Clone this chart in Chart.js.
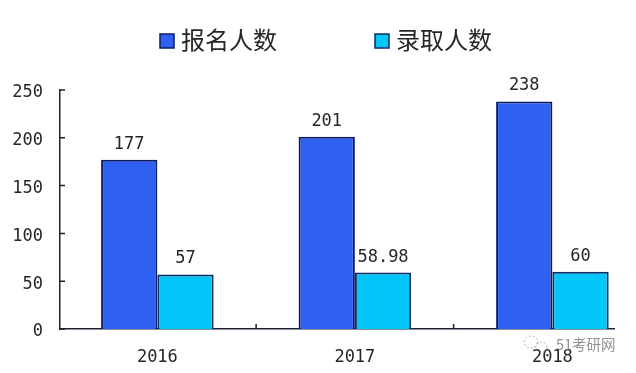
<!DOCTYPE html>
<html>
<head>
<meta charset="utf-8">
<title>报名人数与录取人数</title>
<script src="https://cdn.jsdelivr.net/npm/chart.js@4/dist/chart.umd.min.js"></script>
<style>
  html, body { margin: 0; padding: 0; background: #fff; }
  canvas { display: block; }
</style>
</head>
<body>
<canvas id="chart" width="636" height="373"></canvas>
<script>
const years = [2016, 2017, 2018];
const baoming = [177, 201, 238];
const luqu = [57, 58.98, 60];
const yTicks = [0, 50, 100, 150, 200, 250];
const groupEdges = [2016.5, 2017.5];
const seriesNames = ["报名人数", "录取人数"];

const monoFont = '17px "DejaVu Sans Mono", monospace';
const axisColor = "#1c2230";
const textColor = "#262626";

function toPoints(values) {
  return values.map((v, i) => ({ x: years[i], y: v }));
}

// value labels, inward tick marks, legend and the watermark
const extras = {
  id: "extras",
  afterDraw(chart) {
    const ctx = chart.ctx;
    const xs = chart.scales.x;
    const ys = chart.scales.y;
    ctx.save();

    // ticks point inward on this chart
    ctx.strokeStyle = axisColor;
    ctx.lineWidth = 1.5;
    ctx.beginPath();
    yTicks.forEach((t) => {
      const py = ys.getPixelForValue(t);
      ctx.moveTo(xs.left, py);
      ctx.lineTo(xs.left + 5, py);
    });
    groupEdges.forEach((t) => {
      const px = xs.getPixelForValue(t);
      ctx.moveTo(px, ys.bottom);
      ctx.lineTo(px, ys.bottom - 5);
    });
    ctx.stroke();

    // numbers above the bars
    ctx.font = monoFont;
    ctx.fillStyle = textColor;
    ctx.textAlign = "center";
    ctx.textBaseline = "bottom";
    chart.data.datasets.forEach((ds, i) => {
      chart.getDatasetMeta(i).data.forEach((bar, j) => {
        ctx.fillText(String(ds.data[j].y), bar.x, bar.y - 7);
      });
    });

    // legend
    const legendX = [160, 375];
    ctx.textAlign = "left";
    ctx.textBaseline = "middle";
    chart.data.datasets.forEach((ds, i) => {
      ctx.fillStyle = ds.backgroundColor;
      ctx.strokeStyle = ds.borderColor;
      ctx.lineWidth = 1.5;
      ctx.fillRect(legendX[i], 34, 14, 14);
      ctx.strokeRect(legendX[i], 34, 14, 14);
      ctx.fillStyle = textColor;
      ctx.font = '24px "Noto Sans CJK SC"';
      ctx.fillText(seriesNames[i], legendX[i] + 21, 40);
    });

    // watermark
    ctx.fillStyle = "rgba(110,110,110,0.75)";
    ctx.font = '14.5px "Noto Sans CJK SC"';
    ctx.fillText("51考研网", 556, 344);
    ctx.strokeStyle = "rgba(150,150,150,0.7)";
    ctx.lineWidth = 1;
    ctx.setLineDash([2, 2]);
    ctx.beginPath();
    ctx.ellipse(531, 342, 7, 6, 0, 0, Math.PI * 2);
    ctx.moveTo(547, 347);
    ctx.ellipse(541, 347, 6, 5, 0, 0, Math.PI * 2);
    ctx.stroke();
    ctx.restore();
  },
};

new Chart(document.getElementById("chart"), {
  type: "bar",
  data: {
    datasets: [
      {
        label: seriesNames[0],
        data: toPoints(baoming),
        backgroundColor: "#3060f2",
        borderColor: "#0b1c66",
        borderWidth: 2,
      },
      {
        label: seriesNames[1],
        data: toPoints(luqu),
        backgroundColor: "#02c6f8",
        borderColor: "#0b2c66",
        borderWidth: 2,
      },
    ],
  },
  options: {
    responsive: false,
    animation: false,
    layout: { padding: { top: 90, right: 22, left: 0, bottom: 0 } },
    datasets: { bar: { categoryPercentage: 0.57, barPercentage: 1 } },
    plugins: { legend: { display: false }, tooltip: { enabled: false } },
    scales: {
      x: {
        type: "linear",
        offset: false,
        min: 2015.507,
        max: 2018.312,
        grid: { display: false },
        border: { color: axisColor, width: 1.5 },
        afterBuildTicks: (scale) => {
          scale.ticks = years.map((y) => ({ value: y }));
        },
        afterFit: (scale) => {
          scale.height = 44;
        },
        ticks: {
          padding: 10,
          autoSkip: false,
          maxRotation: 0,
          color: textColor,
          font: { family: '"DejaVu Sans Mono"', size: 17 },
          callback: (v) => String(v),
        },
      },
      y: {
        min: 0,
        max: 250,
        grid: { display: false },
        border: { color: axisColor, width: 1.5 },
        afterBuildTicks: (scale) => {
          scale.ticks = yTicks.map((t) => ({ value: t }));
        },
        afterFit: (scale) => {
          scale.width = 60;
        },
        ticks: {
          padding: 9,
          labelOffset: 3,
          color: textColor,
          font: { family: '"DejaVu Sans Mono"', size: 17 },
        },
      },
    },
  },
  plugins: [extras],
});
</script>
</body>
</html>
